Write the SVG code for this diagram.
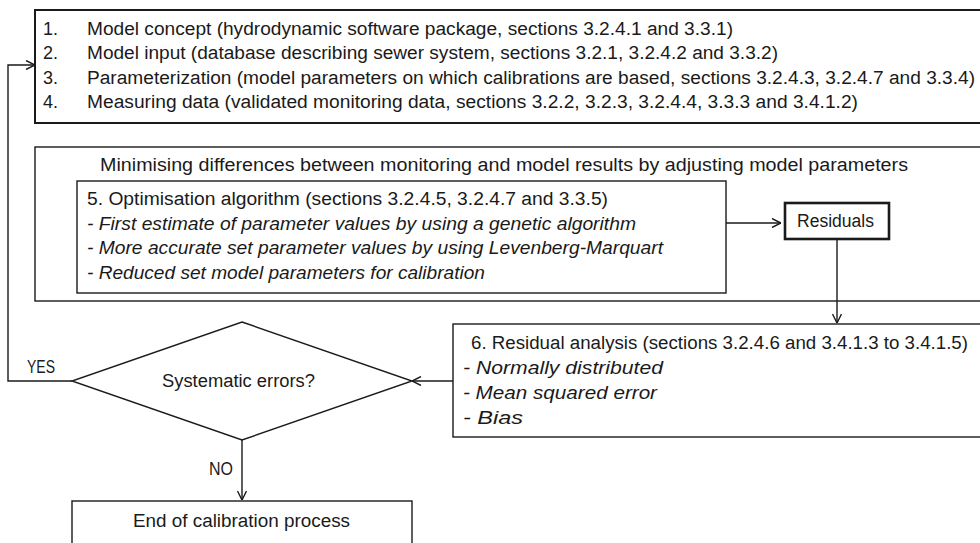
<svg xmlns="http://www.w3.org/2000/svg" width="980" height="543" viewBox="0 0 980 543">
<defs>
<style>
text{font-family:"Liberation Sans",Arial,sans-serif;font-size:18px;fill:#1a1a1a}
.it{font-style:italic}
.box{fill:#fff;stroke:#1a1a1a;stroke-width:1.4}
.thick{stroke-width:2.6}
.edge{fill:none;stroke:#1a1a1a;stroke-width:1.4}
</style>
<marker id="arr" viewBox="0 0 10 10" refX="10" refY="5" markerWidth="10" markerHeight="10" markerUnits="userSpaceOnUse" orient="auto">
<path d="M1,0.5 L10,5 L1,9.5" fill="none" stroke="#1a1a1a" stroke-width="1.4"/>
</marker>
</defs>
<rect width="980" height="543" fill="#fff"/>

<g id="inputs">
<rect class="box" x="35" y="10" width="960" height="113" style="stroke-width:2"/>
<text x="43" y="34.5">1.</text>
<text x="87" y="34.5" textLength="646" lengthAdjust="spacingAndGlyphs">Model concept (hydrodynamic software package, sections 3.2.4.1 and 3.3.1)</text>
<text x="43" y="59">2.</text>
<text x="87" y="59" textLength="691" lengthAdjust="spacingAndGlyphs">Model input (database describing sewer system, sections 3.2.1, 3.2.4.2 and 3.3.2)</text>
<text x="43" y="83.5">3.</text>
<text x="87" y="83.5" textLength="888" lengthAdjust="spacingAndGlyphs">Parameterization (model parameters on which calibrations are based, sections 3.2.4.3, 3.2.4.7 and 3.3.4)</text>
<text x="43" y="108">4.</text>
<text x="87" y="108" textLength="771" lengthAdjust="spacingAndGlyphs">Measuring data (validated monitoring data, sections 3.2.2, 3.2.3, 3.2.4.4, 3.3.3 and 3.4.1.2)</text>
</g>

<g id="minimising">
<rect class="box" x="35" y="147" width="960" height="154"/>
<text x="100" y="171" textLength="808" lengthAdjust="spacingAndGlyphs">Minimising differences between monitoring and model results by adjusting model parameters</text>
</g>

<g id="optimisation">
<rect class="box" x="77" y="181" width="649" height="112"/>
<text x="87" y="205" textLength="521" lengthAdjust="spacingAndGlyphs">5. Optimisation algorithm (sections 3.2.4.5, 3.2.4.7 and 3.3.5)</text>
<text class="it" x="87" y="229.5" textLength="549" lengthAdjust="spacingAndGlyphs">- First estimate of parameter values by using a genetic algorithm</text>
<text class="it" x="87" y="254" textLength="576" lengthAdjust="spacingAndGlyphs">- More accurate set parameter values by using Levenberg-Marquart</text>
<text class="it" x="87" y="278.5" textLength="398" lengthAdjust="spacingAndGlyphs">- Reduced set model parameters for calibration</text>
</g>

<g id="residuals">
<rect class="box thick" x="785" y="203" width="104" height="36"/>
<text x="797" y="227" textLength="77" lengthAdjust="spacingAndGlyphs">Residuals</text>
</g>

<g id="analysis">
<rect class="box" x="453" y="324" width="540" height="113"/>
<text x="471" y="349" textLength="497" lengthAdjust="spacingAndGlyphs">6. Residual analysis (sections 3.2.4.6 and 3.4.1.3 to 3.4.1.5)</text>
<text class="it" x="463" y="374" textLength="200" lengthAdjust="spacingAndGlyphs">- Normally distributed</text>
<text class="it" x="463" y="399" textLength="194" lengthAdjust="spacingAndGlyphs">- Mean squared error</text>
<text class="it" x="463" y="424" textLength="60" lengthAdjust="spacingAndGlyphs">- Bias</text>
</g>

<g id="decision">
<polygon class="box" points="242,322 412,381 242,440 72,381"/>
<text x="162" y="387" textLength="153" lengthAdjust="spacingAndGlyphs">Systematic errors?</text>
</g>

<g id="end">
<rect class="box" x="72" y="501" width="340" height="60"/>
<text x="133" y="527" textLength="217" lengthAdjust="spacingAndGlyphs">End of calibration process</text>
</g>

<g id="connectors">
<polyline class="edge" points="72,381 8,381 8,65 35,65" marker-end="url(#arr)"/>
<line class="edge" x1="726" y1="223" x2="781" y2="223" marker-end="url(#arr)"/>
<line class="edge" x1="837" y1="239" x2="837" y2="323" marker-end="url(#arr)"/>
<line class="edge" x1="453" y1="381" x2="412" y2="381" marker-end="url(#arr)"/>
<line class="edge" x1="242" y1="440" x2="242" y2="500" marker-end="url(#arr)"/>
<text x="27" y="373" textLength="28" lengthAdjust="spacingAndGlyphs">YES</text>
<text x="209" y="475" textLength="24" lengthAdjust="spacingAndGlyphs">NO</text>
</g>
</svg>
